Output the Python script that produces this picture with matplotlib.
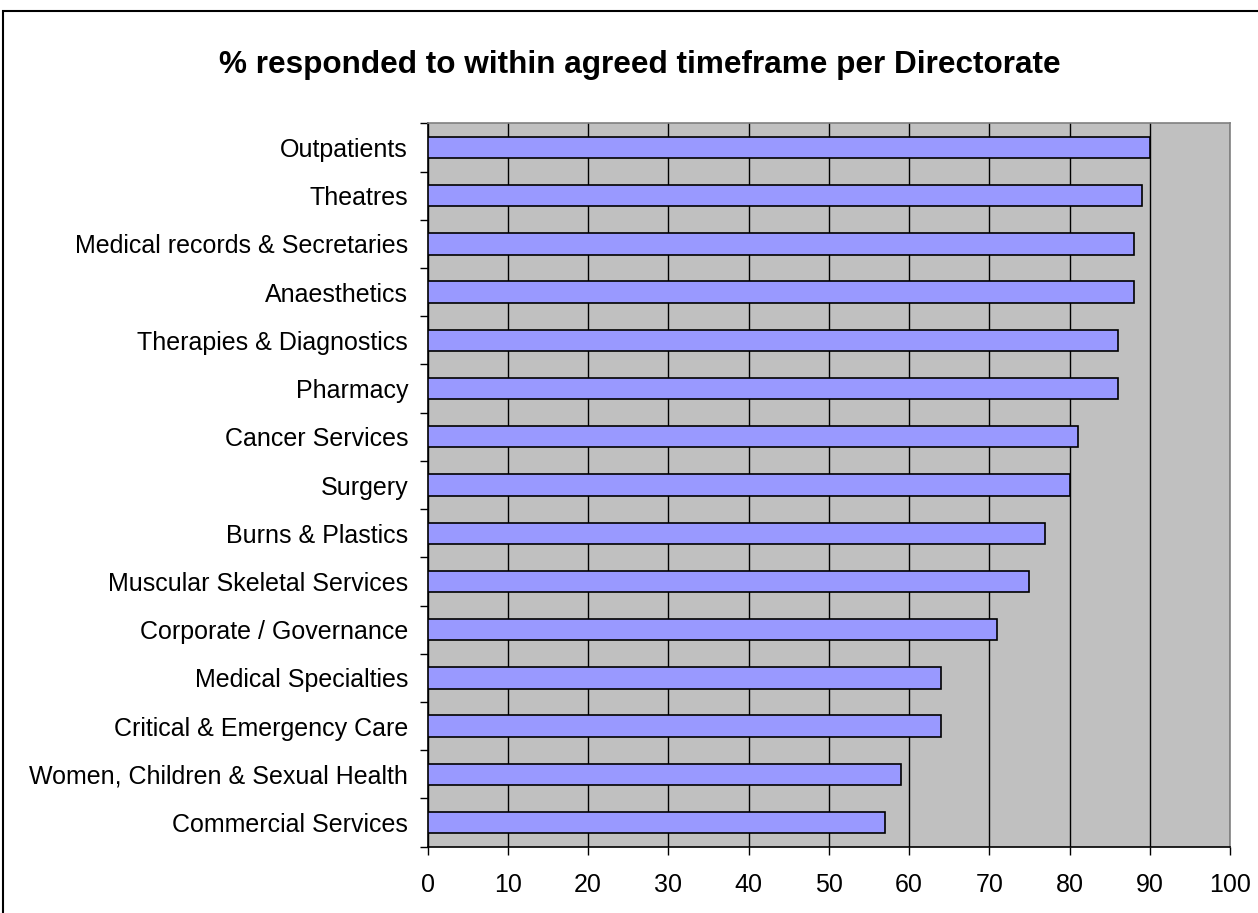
import matplotlib
matplotlib.use("Agg")
import matplotlib.pyplot as plt
from matplotlib.patches import Rectangle

plt.rcParams['font.family'] = ['Liberation Sans', 'DejaVu Sans']

directorates = [
    "Outpatients",
    "Theatres",
    "Medical records & Secretaries",
    "Anaesthetics",
    "Therapies & Diagnostics",
    "Pharmacy",
    "Cancer Services",
    "Surgery",
    "Burns & Plastics",
    "Muscular Skeletal Services",
    "Corporate / Governance",
    "Medical Specialties",
    "Critical & Emergency Care",
    "Women, Children & Sexual Health",
    "Commercial Services",
]
pct_on_time = [90, 89, 88, 88, 86, 86, 81, 80, 77, 75, 71, 64, 64, 59, 57]
x_ticks = [0, 10, 20, 30, 40, 50, 60, 70, 80, 90, 100]

W, H = 1258, 913
fig = plt.figure(figsize=(W / 100, H / 100), dpi=100)

# outer chart frame
fig.patches.append(Rectangle((3 / W, -0.05), 1.1, 1 - 11 / H + 0.05,
                             transform=fig.transFigure, fill=False,
                             edgecolor='black', linewidth=1.5, clip_on=False))

ax = fig.add_axes([427.5 / W, 1 - 846.7 / H, (1230 - 427.5) / W, (846.7 - 123.3) / H])
ax.set_facecolor('#C0C0C0')

n = len(directorates)
pos = list(range(n))
ax.barh(pos, pct_on_time, height=0.444, color='#9999FF', edgecolor='black',
        linewidth=1.2, zorder=3)

ax.set_xlim(0, 100)
ax.set_ylim(n - 0.5, -0.5)
ax.set_xticks(x_ticks)
ax.set_xticklabels([str(t) for t in x_ticks])
ax.xaxis.grid(True, color='black', linewidth=1.0, zorder=1)
ax.set_axisbelow(True)

# category labels centred between boundary tick marks
ax.set_yticks([p - 0.5 for p in pos] + [n - 0.5])
ax.set_yticklabels([])
ax.set_yticks(pos, minor=True)
ax.set_yticklabels(directorates, minor=True)
ax.tick_params(axis='y', which='major', length=6, width=1, direction='out')
ax.tick_params(axis='y', which='minor', length=0, pad=14, labelsize=18)
ax.tick_params(axis='x', length=6, width=1, direction='out', pad=13, labelsize=18)

for s in ('top', 'right'):
    ax.spines[s].set_color('#808080')
    ax.spines[s].set_linewidth(1.2)
for s in ('left', 'bottom'):
    ax.spines[s].set_color('black')
    ax.spines[s].set_linewidth(1.2)

fig.text(639.5 / W, 1 - 65 / H, "% responded to within agreed timeframe per Directorate",
         ha='center', va='center', fontsize=22.7, fontweight='bold')

fig.savefig("out.png", dpi=100, facecolor='white')
